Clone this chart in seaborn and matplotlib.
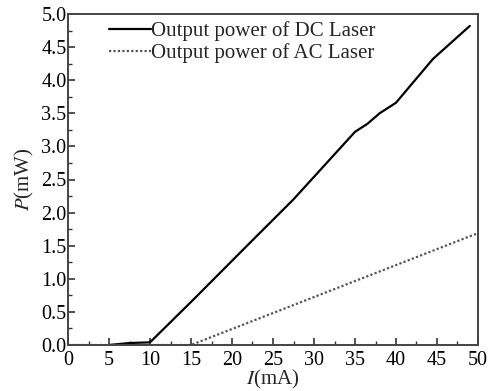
import matplotlib
matplotlib.use("Agg")
import matplotlib.pyplot as plt
import seaborn as sns
import pandas as pd
from matplotlib.ticker import MultipleLocator

dc_current = [5, 7.5, 10, 15, 22, 27.5, 35, 36.5, 38, 40, 44.5, 49]
dc_power = [0.0, 0.03, 0.04, 0.65, 1.52, 2.2, 3.22, 3.34, 3.5, 3.66, 4.32, 4.82]
ac_current = [0, 10, 15, 50]
ac_power = [0.0, 0.0, 0.0, 1.69]
series_names = ["Output power of DC Laser", "Output power of AC Laser"]
x_ticks = [0, 5, 10, 15, 20, 25, 30, 35, 40, 45, 50]
y_ticks = [0.0, 0.5, 1.0, 1.5, 2.0, 2.5, 3.0, 3.5, 4.0, 4.5, 5.0]

sns.set_theme(style="ticks")
plt.rcParams['font.family'] = ['Liberation Serif', 'DejaVu Serif']
plt.rcParams['mathtext.fontset'] = 'stix'

dc = pd.DataFrame({"I": dc_current, "P": dc_power})
ac = pd.DataFrame({"I": ac_current, "P": ac_power})

fig = plt.figure(figsize=(4.88, 3.91), dpi=100)
ax = fig.add_axes([68/488, 1-345/391, 410/488, 331/391])
sns.lineplot(data=dc, x="I", y="P", ax=ax, color="black", lw=1.6, label=series_names[0])
sns.lineplot(data=ac, x="I", y="P", ax=ax, color="#555555", lw=1.6, ls=(0, (1, 1)), label=series_names[1])

ax.set_xticks(x_ticks)
ax.set_xticklabels([f"{v}" for v in x_ticks])
ax.set_yticks(y_ticks)
ax.set_yticklabels([f"{v:.1f}" for v in y_ticks])
ax.set_xlim(0, 50)
ax.set_ylim(0, 5)
ax.xaxis.set_minor_locator(MultipleLocator(2.5))
ax.yaxis.set_minor_locator(MultipleLocator(0.25))
ax.tick_params(axis="both", which="major", direction="in", length=5, width=1.2,
               labelsize=14.5, pad=1, colors="#333333", labelcolor="black")
ax.tick_params(axis="x", which="major", pad=4)
ax.tick_params(axis="both", which="minor", direction="in", length=3, width=1.0, colors="#333333")
for s in ax.spines.values():
    s.set_color("#444444")
    s.set_linewidth(1.4)
    s.set_visible(True)

ax.set_xlabel("$I$(mA)", fontsize=15, labelpad=-1)
ax.set_ylabel("$P$(mW)", fontsize=15, labelpad=4)

leg = ax.legend(loc="upper left", bbox_to_anchor=(0.1, 0.978), frameon=False, fontsize=15,
                handlelength=2.0, handletextpad=0.0, labelspacing=0.1, borderaxespad=0,
                borderpad=0)

fig.savefig("out.png", dpi=100)
